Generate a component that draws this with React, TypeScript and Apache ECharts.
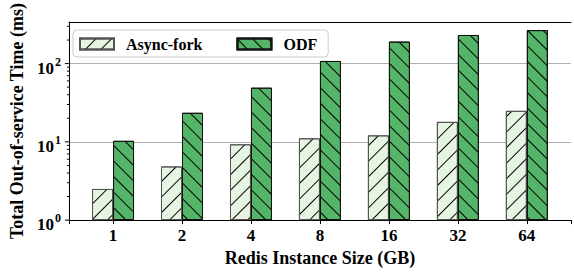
import React, { useEffect, useRef } from "react";
import * as echarts from "echarts";

const categories = ["1", "2", "4", "8", "16", "32", "64"];
const seriesNames = ["Async-fork", "ODF"];
const asyncForkValues = [2.5, 4.85, 9.3, 11.1, 12.1, 18.0, 24.9];
const odfValues = [10.3, 23.5, 49.2, 108, 191, 232, 268];
const majorTickValues = [1, 10, 100];
const minorTickValues = [2, 3, 4, 5, 6, 7, 8, 9, 20, 30, 40, 50, 60, 70, 80, 90, 200, 300];

const X_MIN = -0.64;
const X_MAX = 6.64;
const Y_MIN = 1;
const Y_MAX = 340;

const FONT = "Liberation Serif";

function isPow10(v: number) {
  const e = Math.log10(v);
  return Math.abs(e - Math.round(e)) < 1e-6;
}

export default function App() {
  const ref = useRef<HTMLDivElement>(null);

  useEffect(() => {
    if (!ref.current) return;
    const chart = echarts.init(ref.current, null, { renderer: "svg" });

    const tickSeries = (values: number[], len: number, name: string) => ({
      type: "custom",
      name,
      silent: true,
      clip: false,
      z: 10,
      data: values.map((v) => [X_MIN, v]),
      encode: { x: 0, y: 1 },
      renderItem: (_params: any, api: any) => {
        const p = api.coord([api.value(0), api.value(1)]);
        return {
          type: "line",
          shape: { x1: p[0] - len, y1: p[1], x2: p[0], y2: p[1] },
          style: { stroke: "#000", lineWidth: 1 },
        };
      },
    });

    const option: any = {
      animation: false,
      backgroundColor: "#ffffff",
      textStyle: { fontFamily: FONT },
      grid: { left: 64, top: 22, right: -2, bottom: 47, containLabel: false },
      legend: {
        data: seriesNames,
        left: 73,
        top: 30,
        orient: "horizontal",
        icon: "rect",
        itemWidth: 34,
        itemHeight: 11,
        itemGap: 34,
        padding: [6, 11, 5, 6],
        borderColor: "#cccccc",
        borderWidth: 1,
        borderRadius: 4,
        backgroundColor: "rgba(255,255,255,0.8)",
        textStyle: {
          fontFamily: FONT,
          fontWeight: "bold",
          fontSize: 16,
          color: "#000",
          padding: [0, 0, 0, 7],
        },
      },
      xAxis: [
        {
          type: "value",
          min: X_MIN,
          max: X_MAX,
          minInterval: 1,
          maxInterval: 1,
          name: "Redis Instance Size (GB)",
          nameLocation: "middle",
          nameGap: 24,
          nameTextStyle: { fontFamily: FONT, fontWeight: "bold", fontSize: 18, color: "#000" },
          axisLine: { show: true, onZero: false, lineStyle: { color: "#000", width: 1 } },
          axisTick: { show: true, inside: false, length: 4, lineStyle: { color: "#000" } },
          splitLine: { show: false },
          axisLabel: {
            margin: 7,
            fontFamily: FONT,
            fontWeight: "bold",
            fontSize: 17,
            color: "#000",
            showMinLabel: true,
            showMaxLabel: true,
            formatter: (v: number) => {
              const r = Math.round(v);
              if (Math.abs(v - r) > 1e-6 || r < 0 || r >= categories.length) return "";
              return categories[r];
            },
          },
        },
        {
          type: "value",
          min: X_MIN,
          max: X_MAX,
          position: "top",
          axisLine: { show: true, onZero: false, lineStyle: { color: "#000", width: 1 } },
          axisTick: { show: false },
          axisLabel: { show: false },
          splitLine: { show: false },
        },
      ],
      yAxis: {
        type: "log",
        logBase: 10,
        min: Y_MIN,
        max: Y_MAX,
        position: "left",
        name: "Total Out-of-service Time (ms)",
        nameLocation: "middle",
        nameGap: 37,
        nameTextStyle: { fontFamily: FONT, fontWeight: "bold", fontSize: 18, color: "#000" },
        axisLine: { show: true, onZero: false, lineStyle: { color: "#000", width: 1 } },
        axisTick: { show: false },
        splitLine: { show: true, lineStyle: { color: "#b0b0b0", width: 1 } },
        axisLabel: {
          margin: 8,
          showMinLabel: true,
          showMaxLabel: true,
          fontFamily: FONT,
          formatter: (v: number) => {
            if (!isPow10(v)) return "";
            return `{b|10}{s|${Math.round(Math.log10(v))}}`;
          },
          rich: {
            b: {
              fontFamily: FONT,
              fontWeight: "bold",
              fontSize: 17,
              color: "#000",
              lineHeight: 26,
              verticalAlign: "bottom",
            },
            s: {
              fontFamily: FONT,
              fontWeight: "bold",
              fontSize: 12,
              color: "#000",
              verticalAlign: "bottom",
              padding: [0, 0, 9, 1],
            },
          },
        },
      },
      series: [
        {
          type: "bar",
          name: seriesNames[0],
          data: asyncForkValues.map((v, i) => [i, v]),
          barWidth: 21,
          barGap: "0%",
          z: 2,
          itemStyle: {
            color: "#e6f5e1",
            borderColor: "#555555",
            borderWidth: 1,
            decal: {
              symbol: "rect",
              symbolSize: 1,
              dashArrayX: [1, 0],
              dashArrayY: [1, 10],
              rotation: -Math.PI / 4,
              color: "#000000",
            },
          },
        },
        {
          type: "bar",
          name: seriesNames[1],
          data: odfValues.map((v, i) => [i, v]),
          barWidth: 21,
          barGap: "0%",
          z: 2,
          itemStyle: {
            color: "#54b468",
            borderColor: "#111111",
            borderWidth: 1,
            decal: {
              symbol: "rect",
              symbolSize: 1,
              dashArrayX: [1, 0],
              dashArrayY: [1, 10],
              rotation: Math.PI / 4,
              color: "#000000",
            },
          },
        },
        tickSeries(majorTickValues, 4, "majorTicks"),
        tickSeries(minorTickValues, 2, "minorTicks"),
      ],
    };

    chart.setOption(option);
    return () => chart.dispose();
  }, []);

  return (
    <div
      ref={ref}
      style={{ position: "fixed", left: 0, top: 0, width: 574, height: 272, background: "#fff" }}
    />
  );
}
